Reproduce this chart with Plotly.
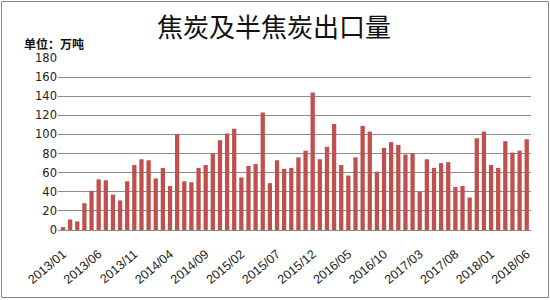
import plotly.graph_objects as go

months = [f"{y}/{m:02d}" for y in range(2013, 2019) for m in range(1, 13)][:66]
values = [3, 11, 9, 28, 41, 53, 52, 37, 31, 51, 68, 74, 73, 54, 65, 46, 100, 51, 50, 65,
          68, 80, 94, 101, 106, 55, 67, 69, 123, 49, 73, 64, 65, 76, 83, 144, 74, 87, 111, 68,
          57, 76, 109, 103, 61, 86, 92, 89, 79, 80, 40, 74, 65, 70, 71, 45, 46, 34, 96, 103,
          68, 65, 93, 81, 83, 95]
tick_labels = months[::5]

W, H = 550, 300
L, R, T, B = 58, 19, 58, 70

fig = go.Figure(go.Bar(x=months, y=values, marker_color="#C0504D", marker_line_width=0, width=0.6))

fig.update_layout(
    width=W, height=H, margin=dict(l=L, r=R, t=T, b=B),
    paper_bgcolor="white", plot_bgcolor="white", showlegend=False,
    font=dict(family="Noto Sans CJK SC, DejaVu Sans", color="#222"),
    bargap=0.4,
)
fig.update_yaxes(range=[0, 180], dtick=20, showgrid=True, gridcolor="#8c8c8c", gridwidth=1,
                 zeroline=False, showline=False, tickfont=dict(size=11.5, family="DejaVu Sans", color="#222"),
                 ticks="", ticklen=0, automargin=False)
fig.update_xaxes(type="category", tickmode="array", tickvals=tick_labels, ticktext=tick_labels,
                 tickangle=-40, tickfont=dict(size=12.5, family="Liberation Sans", color="#222"),
                 ticklabelstandoff=11, automargin=False,
                 showline=True, linecolor="#8c8c8c", linewidth=1, ticks="", range=[-0.7, 65.6])

pw, ph = W - L - R, H - T - B
def px(x): return (x - L) / pw
def py(y): return (H - B - y) / ph

fig.add_annotation(text="焦炭及半焦炭出口量", xref="paper", yref="paper", x=px(274), y=py(26),
                   showarrow=False, font=dict(size=26, color="#111", family="Noto Sans CJK SC"),
                   xanchor="center", yanchor="middle")
fig.add_annotation(text="<b>单位：万吨</b>", xref="paper", yref="paper", x=px(22), y=py(43),
                   showarrow=False, font=dict(size=12, color="#111", family="Noto Sans CJK SC"),
                   xanchor="left", yanchor="middle")
fig.add_shape(type="rect", xref="paper", yref="paper", x0=px(1.5), x1=px(548.5), y0=py(297.5), y1=py(1.5),
              line=dict(color="#888", width=1), fillcolor="rgba(0,0,0,0)", layer="below")

fig.write_html("out.html")
